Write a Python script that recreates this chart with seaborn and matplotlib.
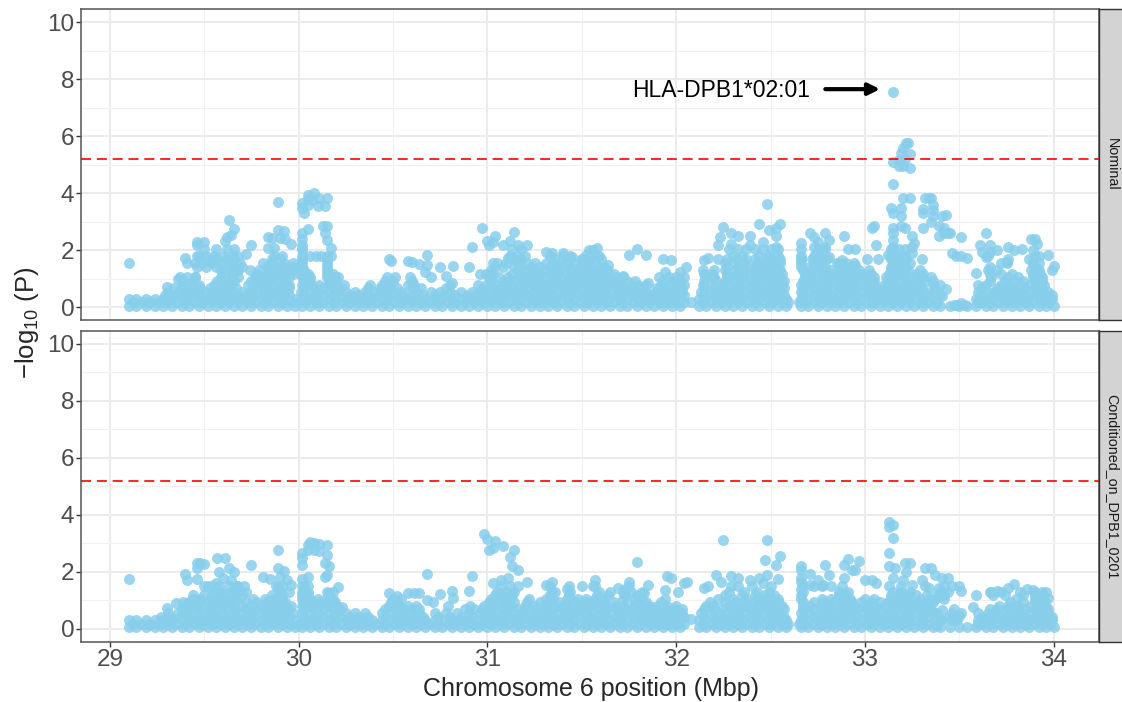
import matplotlib
matplotlib.use("Agg")
import matplotlib.pyplot as plt
import pandas as pd
import seaborn as sns

# Positions (Mbp) at the foot of both panels
pos_all = [29.10,29.14,29.19,29.24,29.28,29.33,29.38,29.42,29.47,29.52,29.56,29.61,29.66,29.70,29.75,29.80,29.84,29.89,29.94,29.98,
           30.02,30.06,30.11,30.16,30.20,30.25,30.30,30.34,30.39,30.44,30.48,30.53,30.58,30.62,30.67,30.72,30.76,30.81,30.86,30.90,30.95,
           31.00,31.04,31.09,31.14,31.18,31.23,31.28,31.32,31.37,31.42,31.46,31.51,31.56,31.60,31.65,31.70,31.74,31.79,31.84,31.88,31.93,31.98,
           32.02,32.12,32.16,32.21,32.26,32.30,32.35,32.40,32.44,32.49,32.54,32.58,
           32.66,32.70,32.75,32.80,32.84,32.89,32.94,32.98,33.03,33.08,33.12,33.17,33.22,33.26,33.31,33.36,33.40,33.45,33.50,33.54,33.59,33.64,33.68,33.73,33.78,33.82,33.87,33.92,33.96,34.00]
pos_mid = [29.12,29.17,29.21,29.26,29.31,29.35,29.40,29.45,29.49,29.54,29.59,29.63,29.68,29.73,29.77,29.82,29.87,29.91,29.96,30.00,
           30.04,30.09,30.13,30.18,30.23,30.27,30.32,30.37,30.41,30.46,30.51,30.55,30.60,30.65,30.69,30.74,30.79,30.83,30.88,30.93,30.97,
           31.02,31.07,31.11,31.16,31.21,31.25,31.30,31.35,31.39,31.44,31.49,31.53,31.58,31.63,31.67,31.72,31.77,31.81,31.86,31.91,31.95,32.00,
           32.04,32.14,32.19,32.23,32.28,32.33,32.37,32.42,32.47,32.51,32.56,32.59,
           32.65,32.68,32.73,32.77,32.82,32.87,32.91,32.96,33.01,33.05,33.10,33.15,33.19,33.24,33.29,33.33,33.38,33.60,33.62,33.66,33.71,33.75,33.80,33.85,33.89,33.94,33.98]

# Nominal panel, band rows
nom_y03 = [29.10,29.14,29.19,29.24,29.28,29.33,29.38,29.42,29.47,29.52,29.56,29.61,29.66,29.70,29.75,29.80,29.84,29.89,29.94,29.98,
           30.02,30.06,30.11,30.16,30.20,30.25,30.30,30.34,30.39,30.44,30.48,30.53,30.58,30.62,30.67,30.72,30.76,30.81,30.86,30.90,30.95,
           31.00,31.04,31.09,31.14,31.18,31.23,31.28,31.32,31.37,31.42,31.46,31.51,31.56,31.60,31.65,31.70,31.74,31.79,31.84,31.88,31.93,31.98,
           32.02,32.12,32.16,32.21,32.26,32.30,32.35,32.40,32.44,32.49,32.54,32.58,
           32.66,32.70,32.75,32.80,32.84,32.89,32.94,32.98,33.03,33.08,33.12,33.17,33.22,33.26,33.31,33.36,33.59,33.64,33.68,33.73,33.78,33.82,33.87,33.92,33.96,33.99]
nom_y43 = [29.29,29.33,29.38,29.43,29.48,29.53,29.58,29.62,29.67,29.72,29.76,29.81,29.86,29.90,29.95,
           30.03,30.08,30.13,30.18,30.22,30.27,30.32,30.37,30.42,30.47,30.52,30.56,30.60,30.66,30.72,30.77,30.83,30.89,30.94,30.98,
           31.03,31.07,31.12,31.17,31.21,31.26,31.30,31.35,31.40,31.44,31.49,31.54,31.58,31.63,31.68,31.72,31.77,31.82,31.86,31.91,31.96,32.00,32.04,
           32.15,32.20,32.25,32.29,32.34,32.39,32.43,32.48,32.53,32.57,
           32.67,32.73,32.78,32.82,32.87,32.92,32.96,33.01,33.06,33.10,33.15,33.20,33.24,33.29,33.34,33.40,33.61,33.67,33.71,33.76,33.81,33.85,33.90,33.95,33.99]
nom_y055 = [29.31,29.36,29.41,29.46,29.51,29.55,29.60,29.65,29.70,29.74,29.79,29.84,29.88,29.93,
            30.01,30.06,30.11,30.16,30.20,30.25,30.30,30.35,30.40,30.45,30.50,30.54,30.62,30.70,30.75,30.80,30.86,30.92,30.96,
            31.01,31.05,31.10,31.15,31.19,31.24,31.28,31.33,31.38,31.42,31.47,31.52,31.56,31.61,31.66,31.70,31.75,31.80,31.84,31.89,31.94,31.98,32.03,
            32.13,32.18,32.23,32.27,32.32,32.37,32.41,32.46,32.51,32.55,
            32.66,32.71,32.76,32.80,32.85,32.90,32.94,32.99,33.04,33.08,33.13,33.18,33.22,33.27,33.32,33.37,33.60,33.65,33.69,33.74,33.79,33.83,33.88,33.93,33.97]
nom_y68 = [29.34,29.39,29.44,29.48,29.53,29.58,29.62,29.67,29.76,29.81,29.86,29.90,29.95,
           30.03,30.08,30.13,30.18,30.22,30.37,30.43,30.48,30.52,30.60,30.65,30.78,30.97,
           31.03,31.07,31.12,31.17,31.21,31.26,31.31,31.35,31.40,31.45,31.49,31.54,31.59,31.63,31.68,31.73,31.77,31.82,31.90,31.94,31.99,32.03,
           32.15,32.20,32.25,32.30,32.34,32.39,32.44,32.49,32.53,32.57,
           32.67,32.72,32.77,32.82,32.87,32.91,32.96,33.01,33.06,33.11,33.16,33.21,33.25,33.30,33.37,33.62,33.70,33.75,33.80,33.85,33.90,33.94]
nom_y08 = [29.38,29.43,29.47,29.55,29.60,29.64,29.73,29.78,29.82,29.87,29.91,29.95,
           30.02,30.06,30.11,30.16,30.20,30.24,30.38,30.44,30.48,30.58,30.61,30.80,30.95,30.99,31.04,31.08,31.13,31.19,31.24,31.29,31.33,31.38,31.43,31.47,31.52,31.57,31.61,31.66,31.71,31.76,31.80,31.84,
           31.92,31.96,32.01,32.04,32.14,32.19,32.24,32.28,32.33,32.38,32.42,32.47,32.52,32.56,
           32.66,32.70,32.75,32.80,32.85,32.90,32.95,33.00,33.05,33.10,33.15,33.20,33.24,33.29,33.36,33.40,33.60,33.64,33.72,33.77,33.82,33.87,33.91,33.95]
nom_y93 = [29.39,29.44,29.57,29.62,29.66,29.75,29.79,29.84,29.89,29.93,30.03,30.06,30.16,30.20,30.46,30.50,30.60,
           31.02,31.09,31.14,31.19,31.23,31.28,31.33,31.37,31.42,31.47,31.51,31.56,31.60,31.65,31.70,31.74,31.78,
           31.93,31.98,32.02,32.15,32.21,32.26,32.30,32.34,32.39,32.44,32.48,32.53,32.57,
           32.67,32.71,32.76,32.81,32.86,32.90,32.95,33.00,33.05,33.12,33.17,33.22,33.27,33.32,33.36,33.66,33.74,33.79,33.84,33.90,33.94]
nom_y105 = [29.37,29.41,29.45,29.59,29.64,29.68,29.77,29.81,29.86,29.91,29.95,30.02,30.06,30.15,30.19,30.47,30.51,30.59,30.70,
            31.01,31.06,31.11,31.17,31.21,31.26,31.31,31.35,31.40,31.45,31.49,31.54,31.58,31.63,31.68,31.72,
            31.91,31.96,32.00,32.04,32.16,32.20,32.27,32.32,32.36,32.41,32.45,32.50,32.55,
            32.68,32.72,32.77,32.82,32.87,32.91,32.96,33.00,33.05,33.11,33.16,33.21,33.26,33.31,33.35,33.67,33.76,33.81,33.89,33.94]
nom_y118 = [29.60,29.65,29.78,29.83,29.88,29.93,29.97,30.02,30.05,30.15,30.18,31.03,31.13,31.18,31.23,31.28,31.33,31.37,31.42,31.47,31.52,31.57,31.62,31.67,
            32.15,32.19,32.27,32.32,32.37,32.42,32.47,32.52,32.56,32.68,32.73,32.78,32.83,32.88,32.93,32.98,33.03,33.13,33.18,33.22,33.27,33.31,33.66,33.72,33.78,33.89,33.93]
nom_y13 = [29.59,29.64,29.68,29.74,29.79,29.84,29.89,29.94,29.98,30.03,30.15,31.02,31.16,31.20,31.25,31.30,31.35,31.38,31.44,31.49,31.54,31.59,31.64,
           32.14,32.20,32.26,32.31,32.36,32.41,32.46,32.50,32.55,32.67,32.72,32.77,32.82,32.87,32.92,32.97,33.02,33.14,33.18,33.23,33.29,33.65,33.70,33.88,33.92]
nom_y143 = [29.46,29.51,29.56,29.61,29.66,29.70,29.83,29.88,29.93,29.97,30.02,30.15,31.04,31.08,31.14,31.18,31.23,31.28,31.33,31.39,31.44,31.49,31.54,31.59,31.62,
            32.27,32.33,32.38,32.42,32.46,32.50,32.54,32.66,32.71,32.75,32.79,32.86,32.90,32.94,33.14,33.18,33.22,33.66,33.90]
nom_y155 = [29.45,29.49,29.54,29.59,29.64,29.69,29.81,29.86,29.92,29.97,30.02,30.15,31.05,31.10,31.16,31.21,31.25,31.31,31.37,31.42,31.46,31.52,31.57,
            32.26,32.31,32.36,32.43,32.47,32.52,32.55,32.66,32.73,32.77,32.86,32.90,32.94,33.15,33.19,33.24,33.75,33.89,33.92]
nom_y168 = [29.48,29.53,29.57,29.62,29.66,29.86,29.90,30.02,30.15,31.14,31.18,31.36,31.42,31.50,31.55,31.60,
            32.27,32.32,32.37,32.42,32.47,32.51,32.55,32.66,32.72,32.76,32.80,33.14,33.18,33.22]
nom_y18 = [29.47,29.51,29.55,29.60,29.65,29.68,29.87,29.91,30.02,30.06,30.09,30.12,30.15,30.17,31.12,31.16,31.20,31.33,31.40,31.44,31.56,31.59,
           32.30,32.35,32.44,32.49,32.54,32.66,32.73,32.76,33.14,33.18,33.21,33.65,33.90,33.92]
nom_y205 = [29.50,29.56,29.62,29.66,30.02,32.28,32.33,32.37,32.42,32.46,32.50,32.54,32.75,32.79,33.14,33.18,33.21]

# Nominal panel, points standing clear of the band
nom_x = [29.10,29.30,29.36,29.45,29.40,29.41,29.46,29.89,29.63,29.66,29.46,29.50,29.46,29.62,29.64,29.61,29.75,29.84,29.89,29.92,29.90,29.93,29.96,29.86,29.84,29.87,29.72,
         30.02,30.02,30.05,30.08,30.11,30.15,30.03,30.05,30.10,30.14,30.07,30.05,30.02,30.02,30.02,30.02,30.05,30.13,30.15,30.14,30.15,30.17,30.21,
         30.48,30.49,30.58,30.60,30.64,30.68,30.68,30.67,30.75,30.82,30.78,30.81,30.90,30.92,30.97,31.00,31.03,31.01,31.04,31.08,31.12,31.14,31.13,31.16,31.21,31.18,31.11,31.13,31.03,30.96,30.99,31.02,
         31.31,31.34,31.40,31.45,31.50,31.52,31.54,31.55,31.58,31.56,31.58,31.64,31.72,31.85,31.75,31.79,31.84,31.94,31.97,31.93,32.05,32.02,32.08,
         32.48,32.44,32.49,32.55,32.53,32.53,32.46,32.53,32.25,32.23,32.22,32.29,32.33,32.39,32.29,32.39,32.22,32.15,32.17,
         32.66,32.66,32.66,32.71,32.73,32.79,32.81,32.89,32.75,32.73,32.79,32.74,32.81,32.75,32.73,32.79,32.91,32.95,32.88,32.85,32.95,33.05,33.04,33.06,33.07,33.01,33.12,33.25,33.30,
         33.15,33.22,33.23,33.20,33.19,33.24,33.18,33.21,33.15,33.18,33.20,33.24,33.15,33.20,33.24,33.32,33.34,33.35,33.36,33.36,33.31,33.31,33.36,33.41,33.43,33.35,
         33.14,33.15,33.19,33.19,33.31,33.39,33.42,33.44,33.39,33.42,33.45,33.51,33.46,33.48,33.51,33.54,33.19,33.15,33.15,33.21,33.25,33.26,33.15,33.15,33.15,33.25,
         33.64,33.61,33.66,33.62,33.66,33.70,33.64,33.59,33.76,33.79,33.83,33.88,33.90,33.91,33.97,33.89,33.87,33.89,33.72,33.76,33.75,34.00,33.99,
         33.41,33.43,33.47,33.49,33.51,33.53]
nom_y = [1.56,0.72,0.99,1.05,1.72,1.54,1.81,3.70,3.05,2.74,2.30,2.30,2.19,2.48,2.55,2.32,2.20,2.48,2.72,2.66,2.42,2.39,2.22,2.42,2.07,2.07,1.87,
         3.65,3.50,3.95,4.00,3.85,3.85,3.30,3.60,3.55,3.55,3.75,3.80,2.60,2.40,2.20,2.05,2.74,2.85,2.84,2.60,2.36,2.07,1.07,
         1.70,1.62,1.62,1.58,1.52,1.85,1.50,1.25,1.40,1.46,1.10,0.84,1.40,2.13,2.78,2.33,2.28,2.19,2.50,2.19,2.34,2.64,2.05,2.19,2.19,2.05,1.72,1.72,1.56,1.16,1.16,1.16,
         1.95,1.90,1.90,1.75,1.70,1.85,2.00,1.80,2.08,2.00,1.80,1.50,1.10,0.87,1.82,2.03,1.85,1.25,1.65,1.68,1.40,1.25,0.20,
         3.62,2.92,2.70,2.92,2.80,2.50,2.30,2.10,2.82,2.48,2.18,2.60,2.50,2.50,2.22,2.20,1.70,1.65,1.72,
         2.25,2.05,1.70,2.60,2.45,2.62,2.35,2.50,2.30,2.10,2.10,1.90,1.78,1.60,1.70,1.70,2.03,2.05,1.65,1.55,1.50,2.85,2.77,2.18,1.70,1.70,1.82,1.90,1.70,
         7.56,5.75,5.75,5.60,5.42,5.36,5.17,5.20,5.10,4.95,4.95,4.90,4.32,3.83,3.82,3.85,3.85,3.85,3.60,3.40,3.45,3.30,3.20,3.22,3.24,3.00,
         3.47,3.30,3.50,3.22,2.80,2.87,2.80,2.60,2.50,2.60,2.60,2.45,1.90,1.80,1.80,1.73,2.85,2.80,2.60,2.80,2.50,2.25,2.35,2.10,2.00,2.10,
         2.60,2.20,2.18,1.95,1.95,2.00,1.75,1.20,2.10,2.00,2.05,2.38,2.38,2.22,1.83,2.00,1.70,1.55,1.55,1.70,1.60,1.45,1.30,
         0.40,0.65,0.10,0.10,0.15,0.10]

# Conditioned panel, band rows
con_y03 = [29.10,29.14,29.19,29.24,29.28,29.33,29.38,29.42,29.47,29.52,29.56,29.61,29.66,29.70,29.75,29.80,29.84,29.89,29.94,29.98,
           30.02,30.06,30.11,30.16,30.20,30.25,30.30,30.34,30.39,30.44,30.48,30.53,30.58,30.62,30.67,30.72,30.76,30.81,30.86,30.90,30.95,
           31.00,31.04,31.09,31.14,31.18,31.23,31.28,31.32,31.37,31.42,31.46,31.51,31.56,31.60,31.65,31.70,31.74,31.79,31.84,31.88,31.93,31.98,
           32.02,32.12,32.16,32.21,32.26,32.30,32.35,32.40,32.44,32.49,32.54,32.58,
           32.66,32.70,32.75,32.80,32.84,32.89,32.94,32.98,33.03,33.08,33.12,33.17,33.22,33.26,33.31,33.37,33.41,33.46,33.49,33.60,33.64,33.68,33.73,33.78,33.82,33.87,33.92,33.96,33.99]
con_y43 = [29.27,29.32,29.37,29.42,29.47,29.52,29.57,29.62,29.67,29.72,29.76,29.81,29.86,29.90,29.95,
           30.03,30.08,30.13,30.18,30.22,30.27,30.32,30.37,30.46,30.51,30.56,30.61,30.66,30.74,30.80,30.86,30.92,30.98,
           31.03,31.07,31.12,31.17,31.21,31.26,31.30,31.35,31.40,31.44,31.49,31.54,31.58,31.63,31.68,31.72,31.77,31.82,31.86,31.91,31.96,32.00,32.04,
           32.15,32.20,32.25,32.29,32.34,32.39,32.43,32.48,32.53,32.57,
           32.67,32.73,32.78,32.82,32.87,32.92,32.96,33.01,33.06,33.10,33.15,33.20,33.24,33.29,33.34,33.44,33.49,33.62,33.67,33.71,33.76,33.81,33.85,33.90,33.95,33.99]
con_y055 = [29.31,29.36,29.41,29.46,29.51,29.55,29.60,29.65,29.70,29.74,29.79,29.84,29.88,29.93,29.97,
            30.02,30.06,30.11,30.16,30.20,30.25,30.30,30.35,30.44,30.49,30.54,30.59,30.64,30.72,30.78,30.84,30.90,30.96,
            31.01,31.05,31.10,31.15,31.19,31.24,31.28,31.33,31.38,31.42,31.47,31.52,31.56,31.61,31.66,31.70,31.75,31.80,31.84,31.89,31.94,31.98,32.03,
            32.13,32.18,32.23,32.27,32.32,32.37,32.41,32.46,32.51,32.55,
            32.66,32.71,32.76,32.80,32.85,32.90,32.94,32.99,33.04,33.08,33.13,33.18,33.22,33.27,33.32,33.38,33.46,33.51,33.60,33.65,33.69,33.74,33.79,33.83,33.88,33.93,33.97]
con_y68 = [29.38,29.43,29.48,29.53,29.58,29.62,29.67,29.72,29.77,29.82,29.87,29.91,29.95,
           30.03,30.08,30.13,30.18,30.22,30.46,30.51,30.56,30.60,30.64,30.88,30.93,30.97,
           31.02,31.07,31.11,31.16,31.21,31.26,31.31,31.35,31.40,31.45,31.49,31.54,31.59,31.63,31.68,31.73,31.77,31.82,31.86,31.90,31.94,31.99,32.03,
           32.15,32.20,32.25,32.30,32.34,32.39,32.44,32.49,32.53,32.57,
           32.67,32.72,32.77,32.82,32.87,32.91,32.96,33.01,33.06,33.11,33.16,33.21,33.25,33.30,33.35,33.66,33.70,33.75,33.80,33.85,33.90,33.94,33.97]
con_y08 = [29.40,29.45,29.50,29.55,29.60,29.65,29.70,29.75,29.80,29.84,29.89,29.93,29.96,
           30.02,30.06,30.11,30.16,30.20,30.48,30.53,30.58,30.62,30.91,30.98,31.03,31.08,31.12,31.20,31.25,31.30,31.35,31.40,31.44,31.49,31.54,31.59,31.63,31.68,31.72,31.78,31.82,31.86,31.90,31.95,32.00,
           32.16,32.20,32.28,32.33,32.38,32.43,32.48,32.52,32.56,
           32.67,32.71,32.76,32.81,32.86,32.90,32.95,33.00,33.05,33.10,33.15,33.20,33.25,33.29,33.34,33.71,33.76,33.81,33.88,33.92,33.96]
con_y93 = [29.42,29.47,29.52,29.57,29.62,29.66,29.72,29.78,29.83,29.88,29.93,
           30.03,30.07,30.11,30.15,30.19,30.49,30.52,31.01,31.05,31.09,31.14,31.21,31.28,31.33,31.38,31.42,31.47,31.52,31.57,31.62,31.67,31.74,31.80,31.84,31.92,
           32.18,32.26,32.31,32.36,32.41,32.46,32.50,32.54,32.67,32.73,32.78,32.83,32.88,32.93,32.98,33.03,33.08,33.12,33.17,33.22,33.27,33.32,33.36,33.77,33.84,33.90,33.95]
con_y105 = [29.44,29.48,29.54,29.58,29.63,29.67,29.76,29.82,29.87,29.91,30.02,30.06,30.10,30.15,30.18,30.50,30.54,
            31.02,31.07,31.12,31.22,31.31,31.35,31.42,31.48,31.52,31.57,31.62,31.72,31.78,31.82,31.94,
            32.22,32.30,32.37,32.43,32.47,32.51,32.54,32.66,32.77,32.82,32.88,32.92,33.00,33.05,33.14,33.19,33.24,33.29,33.34,33.37,33.42,33.80,33.90,33.94]
con_y118 = [29.50,29.54,29.60,29.65,29.70,29.86,29.91,30.02,30.05,30.16,31.04,31.08,31.13,31.33,31.43,31.58,31.64,31.73,31.79,
            32.26,32.35,32.42,32.47,32.52,32.66,32.86,32.90,33.14,33.18,33.23,33.27,33.33,33.38,33.42,33.68,33.74,33.90,33.93]
con_y13 = [29.55,29.59,29.64,29.68,29.72,29.90,29.95,30.02,30.05,30.15,30.18,31.05,31.10,31.14,31.34,31.44,31.59,31.65,31.72,31.76,31.82,
           32.28,32.36,32.43,32.49,32.67,32.86,32.91,33.15,33.19,33.24,33.40,33.44,33.66,33.72,33.82,33.90,33.94]
con_y15 = [29.50,29.54,29.58,29.63,29.68,29.71,29.88,29.91,30.02,30.05,31.07,31.12,31.16,31.33,31.43,31.50,31.57,31.75,
           32.29,32.33,32.40,32.50,32.67,32.73,32.77,32.82,32.88,33.13,33.19,33.32,33.42,33.50]

# Conditioned panel, points standing clear of the band
con_x = [29.10,29.46,29.48,29.50,29.46,29.57,29.61,29.75,29.89,29.63,29.66,29.58,29.89,29.92,29.81,29.85,29.90,29.94,29.96,29.40,29.41,29.46,29.30,29.35,29.39,29.44,29.89,
         29.60,29.64,29.67,29.56,29.52,
         30.06,30.05,30.08,30.11,30.15,30.02,30.02,30.02,30.05,30.08,30.11,30.15,30.14,30.16,30.15,30.14,30.21,30.02,30.05,30.03,30.16,30.23,
         30.68,30.48,30.52,30.58,30.61,30.64,30.75,30.81,30.82,30.79,30.68,30.71,30.90,30.92,30.98,31.00,31.04,31.01,31.03,31.08,31.14,31.12,31.13,31.16,31.11,31.07,31.03,31.21,31.31,31.34,31.42,31.36,
         31.79,31.57,31.56,31.75,31.69,31.73,31.85,31.83,31.95,31.97,32.04,32.06,32.01,31.94,32.08,
         32.25,32.48,32.47,32.55,32.53,32.54,32.44,32.48,32.21,32.29,32.33,32.39,32.24,32.15,32.17,32.46,
         32.66,32.66,32.71,32.79,32.89,32.91,32.97,32.93,32.95,32.89,32.81,32.75,32.78,32.71,33.00,33.04,33.06,32.66,32.66,32.66,
         33.13,33.15,33.13,33.15,33.13,33.13,33.16,33.21,33.24,33.22,33.15,33.20,33.25,33.32,33.35,33.37,33.30,33.41,33.44,33.46,33.39,33.34,33.39,33.51,33.59,33.67,33.70,33.76,33.79,33.86,33.89,33.96,33.97,33.84,
         33.34,33.36,33.40,33.38,33.41,33.47,33.50,33.57]
con_y = [1.74,2.30,2.30,2.28,2.15,2.48,2.48,2.25,2.75,2.15,1.98,1.98,2.15,2.03,1.81,1.75,1.81,1.72,1.54,1.93,1.72,1.75,0.74,0.92,0.95,1.19,1.46,
         1.80,1.70,1.50,1.60,1.50,
         3.05,2.95,3.00,2.98,2.93,2.66,2.48,2.25,2.78,2.78,2.72,2.60,2.30,2.19,1.89,1.81,1.48,1.75,1.81,1.50,1.25,0.78,
         1.93,1.25,1.15,1.25,1.25,1.25,1.22,1.34,1.10,0.80,1.00,0.95,1.34,1.86,3.33,3.16,3.07,2.78,2.84,2.90,2.75,2.52,2.19,2.07,1.80,1.70,1.60,1.66,1.55,1.65,1.40,1.30,
         2.35,1.72,1.50,1.64,1.45,1.40,1.55,1.25,1.86,1.80,1.60,1.65,1.30,1.35,0.34,
         3.10,3.11,2.40,2.57,2.25,1.75,1.80,1.90,1.90,1.85,1.80,1.70,1.65,1.45,1.50,1.60,
         2.19,2.05,1.93,2.23,2.23,2.45,2.37,2.07,2.07,1.80,1.90,1.70,1.55,1.55,1.70,1.70,1.62,1.80,1.65,1.40,
         3.75,3.63,3.58,3.20,2.67,2.19,2.13,2.31,2.31,2.00,1.80,1.72,1.55,2.13,2.13,1.90,1.70,1.80,1.80,1.50,1.45,1.45,1.13,1.34,1.19,1.30,1.32,1.45,1.58,1.40,1.35,1.30,1.10,1.20,
         0.90,0.55,0.30,0.15,0.65,0.70,0.45,0.75]

level_x = [pos_all, pos_mid, nom_y03, nom_y43, nom_y055, nom_y68, nom_y08, nom_y93, nom_y105, nom_y118, nom_y13, nom_y143, nom_y155, nom_y168, nom_y18, nom_y205]
level_y = [0.05, 0.18, 0.3, 0.43, 0.55, 0.68, 0.8, 0.93, 1.05, 1.18, 1.3, 1.43, 1.55, 1.68, 1.8, 2.05]
cond_level_x = [pos_all, pos_mid, con_y03, con_y43, con_y055, con_y68, con_y08, con_y93, con_y105, con_y118, con_y13, con_y15]
cond_level_y = [0.05, 0.18, 0.3, 0.43, 0.55, 0.68, 0.8, 0.93, 1.05, 1.18, 1.3, 1.5]

panels = ["Nominal", "Conditioned_on_DPB1_0201"]
threshold = 5.2
xticks = [29, 30, 31, 32, 33, 34]
yticks = [0, 2, 4, 6, 8, 10]


def panel_frame(name, rows_x, rows_y, extra_x, extra_y):
    parts = [pd.DataFrame({"pos": xs, "logp": y}) for xs, y in zip(rows_x, rows_y)]
    parts.append(pd.DataFrame({"pos": extra_x, "logp": extra_y}))
    df = pd.concat(parts, ignore_index=True)
    df["panel"] = name
    return df


df = pd.concat([
    panel_frame(panels[0], level_x, level_y, nom_x, nom_y),
    panel_frame(panels[1], cond_level_x, cond_level_y, con_x, con_y),
], ignore_index=True)

sns.set_theme(style="white")
plt.rcParams["font.family"] = ["Liberation Sans", "DejaVu Sans"]
plt.rcParams["mathtext.fontset"] = "custom"
plt.rcParams["mathtext.rm"] = "Liberation Sans"

g = sns.relplot(
    data=df, x="pos", y="logp", row="panel", row_order=panels,
    kind="scatter", color="#87CEEB", alpha=0.85, s=62, linewidth=0,
    height=3.1, aspect=3.2, facet_kws={"sharex": True, "sharey": True},
)
g.figure.set_size_inches(11.22, 7.02)
g.figure.subplots_adjust(left=81 / 1122, right=1099 / 1122, top=1 - 9 / 702, bottom=1 - 642 / 702, hspace=10 / 311)
g.set_titles("")
g.set_axis_labels("", "")

for ax, name in zip(g.axes.flat, panels):
    ax.set_xlim(28.847, 34.24)
    ax.set_ylim(-0.46, 10.46)
    ax.set_xticks(xticks)
    ax.set_yticks(yticks)
    ax.set_xticks([29.5, 30.5, 31.5, 32.5, 33.5], minor=True)
    ax.set_yticks([1, 3, 5, 7, 9], minor=True)
    ax.grid(which="major", color="#ebebeb", lw=1.4)
    ax.grid(which="minor", color="#f0f0f0", lw=0.8)
    ax.set_axisbelow(True)
    ax.axhline(threshold, color="red", lw=1.2, linestyle=(0, (6, 3.5)), zorder=5)
    ax.tick_params(which="major", axis="both", length=3.4, width=1, color="#333333", pad=1.5,
                   labelsize=17.5, labelcolor="#4d4d4d", bottom=True, left=True)
    ax.tick_params(which="minor", length=0)
    for side in ax.spines.values():
        side.set_visible(True)
        side.set_color("#555555")
        side.set_linewidth(1.1)
    # facet strip on the right
    box = ax.get_position()
    strip = g.figure.add_axes([box.x1, box.y0, 1 - box.x1 + 0.01, box.height], facecolor="#d3d3d3")
    strip.set_xticks([])
    strip.set_yticks([])
    for side in strip.spines.values():
        side.set_color("#333333")
        side.set_linewidth(1)
    strip.text(0.38, 0.5, name, rotation=270, ha="center", va="center", fontsize=10.3,
               color="#1a1a1a", transform=strip.transAxes)

top = g.axes.flat[0]
top.tick_params(axis="x", which="major", bottom=False, labelbottom=False)
top.annotate("", xy=(33.08, 7.65), xytext=(32.79, 7.65),
             arrowprops=dict(arrowstyle="-|>", color="black", lw=3, mutation_scale=17,
                             shrinkA=0, shrinkB=0))
top.text(31.765, 7.62, "HLA-DPB1*02:01", ha="left", va="center", fontsize=16.5, color="black")

g.figure.text(591 / 1122, 1 - 689 / 702, "Chromosome 6 position (Mbp)", ha="center", va="center", fontsize=18)
g.figure.text(27 / 1122, 1 - 323 / 702, r"$-\mathrm{log}_{10}$ (P)", rotation=90, ha="center", va="center", fontsize=18.5)

g.figure.savefig("out.png", dpi=100)
